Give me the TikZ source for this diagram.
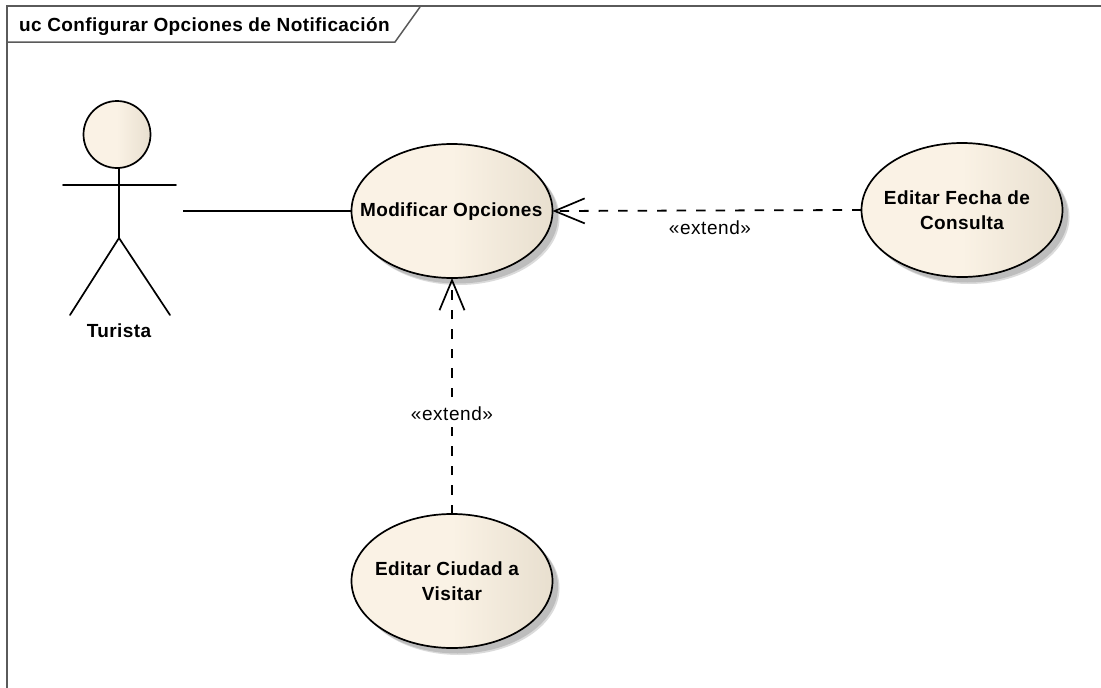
\documentclass[tikz,border=0pt]{standalone}
\usepackage{fontspec}
\setmainfont{Liberation Sans}
\newfontfamily\ucbold[LetterSpace=2]{Liberation Sans Bold}
\newfontfamily\ucreg[LetterSpace=3]{Liberation Sans}
\usetikzlibrary{arrows.meta,shapes.geometric,shadows}
\definecolor{creamL}{HTML}{FAF2E5}
\definecolor{creamR}{HTML}{E8DFCF}
\definecolor{framegray}{HTML}{5A5A5A}
\newcommand{\ucline}[1]{\makebox[0pt]{#1}}
\tikzset{
  usecase/.style={ellipse,draw=black,line width=1.7pt,minimum width=201pt,minimum height=134pt,inner sep=0pt,outer sep=0pt,
    left color=creamL,right color=creamR,middle color=creamL,align=center,font=\fontsize{19}{25.5}\selectfont\ucbold,
    general shadow={shadow xshift=7pt,shadow yshift=-7pt,fill=black!14,draw=none},
    general shadow={shadow xshift=5.5pt,shadow yshift=-5.5pt,fill=black!26,draw=none}},
  boldlabel/.style={inner sep=0pt,font=\fontsize{19}{25.5}\selectfont\ucbold},
  extlabel/.style={inner sep=1pt,font=\fontsize{19}{23}\selectfont\ucreg,fill=white},
  assoc/.style={line width=1.7pt,draw=black},
  extendline/.style={line width=1.8pt,draw=black,dash pattern=on 9.5pt off 10pt,
    -{Straight Barb[length=30pt,width=25pt,line width=1.7pt]}},
  framel/.style={line width=2pt,draw=framegray},
  stick/.style={line width=1.7pt,draw=black,line cap=round}
}
\begin{document}
\begin{tikzpicture}[x=1pt,y=-1pt]
\useasboundingbox (0,0) rectangle (1101,688);
\fill[white] (0,0) rectangle (1101,688);
% frame
\draw[framel] (7,688) -- (7,6) -- (1101,6);
\draw[framel,line width=1.5pt] (7,42) -- (395,42) -- (420,7);
\node[boldlabel,anchor=base west] (title) at (19,31) {uc Configurar Opciones de Notificación};
% use cases
\node[usecase] (mo) at (452,211) {\ucline{\raisebox{-5.7pt}[0pt][0pt]{Modificar Opciones\hspace*{1.5pt}}}};
\node[usecase] (ef) at (962,210) {\ucline{Editar Fecha de\hspace*{10pt}}\\\ucline{Consulta}};
\node[usecase] (ec) at (452,581) {\ucline{Editar Ciudad a\hspace*{10pt}}\\\ucline{Visitar}};
% actor
\node[circle,draw=black,line width=1.7pt,minimum size=67pt,inner sep=0pt,left color=creamL,right color=creamR,middle color=creamL] (head) at (117,134.5) {};
\coordinate (neck) at (119,168);
\coordinate (armL) at (63,185);
\coordinate (armR) at (176,185);
\coordinate (hip) at (119,238);
\coordinate (footL) at (70,315);
\coordinate (footR) at (170,315);
\draw[stick] (neck) -- (hip);
\draw[stick] (armL) -- (armR);
\draw[stick] (footL) -- (hip) -- (footR);
\node[boldlabel] (actor) at (119,331) {Turista};
% connectors
\coordinate (assocStart) at (183,211);
\draw[assoc] (assocStart) -- (mo.west);
\draw[extendline] (ef.west) -- (mo.east);
\draw[extendline] (ec.north) -- (mo.south);
\node[extlabel,fill=none] (l1) at (710,228) {«extend»};
\node[extlabel] (l2) at (452,414) {«extend»};
\end{tikzpicture}
\end{document}
